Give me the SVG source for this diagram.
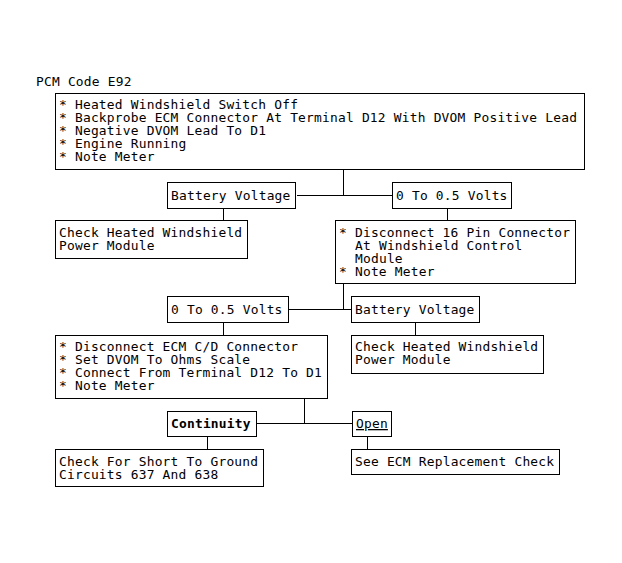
<svg xmlns="http://www.w3.org/2000/svg" width="622" height="563" viewBox="0 0 622 563">
<style>
  .box { fill: #ffffff; stroke: #000000; stroke-width: 1; shape-rendering: crispEdges; }
  .t { font-family: "DejaVu Sans Mono", "Liberation Mono", monospace; font-size: 12.9px; letter-spacing: 0.21px; fill: #000000; }
  .b { font-weight: bold; }
  .u { text-decoration: underline; }
  .conn line { stroke: #000000; stroke-width: 1; shape-rendering: crispEdges; }
</style>
<rect x="0" y="0" width="622" height="563" fill="#ffffff"/>
<text class="t" x="36" y="86">PCM Code E92</text>

<g class="conn">
  <line x1="343.5" y1="169.5" x2="343.5" y2="195.5"/>
  <line x1="296.5" y1="195.5" x2="392.5" y2="195.5"/>
  <line x1="223.5" y1="208.5" x2="223.5" y2="220.5"/>
  <line x1="447.5" y1="208.5" x2="447.5" y2="220.5"/>
  <line x1="343.5" y1="283.5" x2="343.5" y2="309.5"/>
  <line x1="288.5" y1="309.5" x2="351.5" y2="309.5"/>
  <line x1="223.5" y1="322.5" x2="223.5" y2="335.5"/>
  <line x1="415.5" y1="322.5" x2="415.5" y2="335.5"/>
  <line x1="304.5" y1="398.5" x2="304.5" y2="423.5"/>
  <line x1="256.5" y1="423.5" x2="352.5" y2="423.5"/>
  <line x1="207.5" y1="436.5" x2="207.5" y2="449.5"/>
  <line x1="367.5" y1="436.5" x2="367.5" y2="449.5"/>
</g>

<g id="n-start">
  <rect class="box" x="55.5" y="93.5" width="529" height="76"/>
  <text class="t">
    <tspan x="59" y="109">* Heated Windshield Switch Off</tspan>
    <tspan x="59" y="122">* Backprobe ECM Connector At Terminal D12 With DVOM Positive Lead</tspan>
    <tspan x="59" y="135">* Negative DVOM Lead To D1</tspan>
    <tspan x="59" y="148">* Engine Running</tspan>
    <tspan x="59" y="161">* Note Meter</tspan>
  </text>
</g>

<g id="n-bv1">
  <rect class="box" x="167.5" y="182.5" width="128" height="26"/>
  <text class="t" x="171" y="200">Battery Voltage</text>
</g>

<g id="n-v1">
  <rect class="box" x="392.5" y="182.5" width="119" height="26"/>
  <text class="t" x="396" y="200">0 To 0.5 Volts</text>
</g>

<g id="n-check1">
  <rect class="box" x="55.5" y="220.5" width="192" height="38"/>
  <text class="t">
    <tspan x="59" y="236.5">Check Heated Windshield</tspan>
    <tspan x="59" y="249.5">Power Module</tspan>
  </text>
</g>

<g id="n-16pin">
  <rect class="box" x="335.5" y="220.5" width="240" height="63"/>
  <text class="t">
    <tspan x="339" y="236.5">* Disconnect 16 Pin Connector</tspan>
    <tspan x="355" y="249.5">At Windshield Control</tspan>
    <tspan x="355" y="262.5">Module</tspan>
    <tspan x="339" y="275.5">* Note Meter</tspan>
  </text>
</g>

<g id="n-v2">
  <rect class="box" x="167.5" y="296.5" width="121" height="26"/>
  <text class="t" x="171" y="314">0 To 0.5 Volts</text>
</g>

<g id="n-bv2">
  <rect class="box" x="351.5" y="296.5" width="128" height="26"/>
  <text class="t" x="355" y="314">Battery Voltage</text>
</g>

<g id="n-ecmcd">
  <rect class="box" x="55.5" y="335.5" width="272" height="63"/>
  <text class="t">
    <tspan x="59" y="350.5">* Disconnect ECM C/D Connector</tspan>
    <tspan x="59" y="363.5">* Set DVOM To Ohms Scale</tspan>
    <tspan x="59" y="376.5">* Connect From Terminal D12 To D1</tspan>
    <tspan x="59" y="389.5">* Note Meter</tspan>
  </text>
</g>

<g id="n-check2">
  <rect class="box" x="351.5" y="335.5" width="192" height="38"/>
  <text class="t">
    <tspan x="355" y="350.5">Check Heated Windshield</tspan>
    <tspan x="355" y="363.5">Power Module</tspan>
  </text>
</g>

<g id="n-cont">
  <rect class="box" x="167.5" y="411.5" width="89" height="25"/>
  <text class="t b" x="171" y="428">Continuity</text>
</g>

<g id="n-open">
  <rect class="box" x="352.5" y="411.5" width="39" height="25"/>
  <text class="t u" x="356" y="428">Open</text>
</g>

<g id="n-short">
  <rect class="box" x="55.5" y="449.5" width="208" height="37"/>
  <text class="t">
    <tspan x="59" y="465.5">Check For Short To Ground</tspan>
    <tspan x="59" y="478.5">Circuits 637 And 638</tspan>
  </text>
</g>

<g id="n-seeecm">
  <rect class="box" x="351.5" y="449.5" width="208" height="25"/>
  <text class="t" x="355" y="466">See ECM Replacement Check</text>
</g>
</svg>
